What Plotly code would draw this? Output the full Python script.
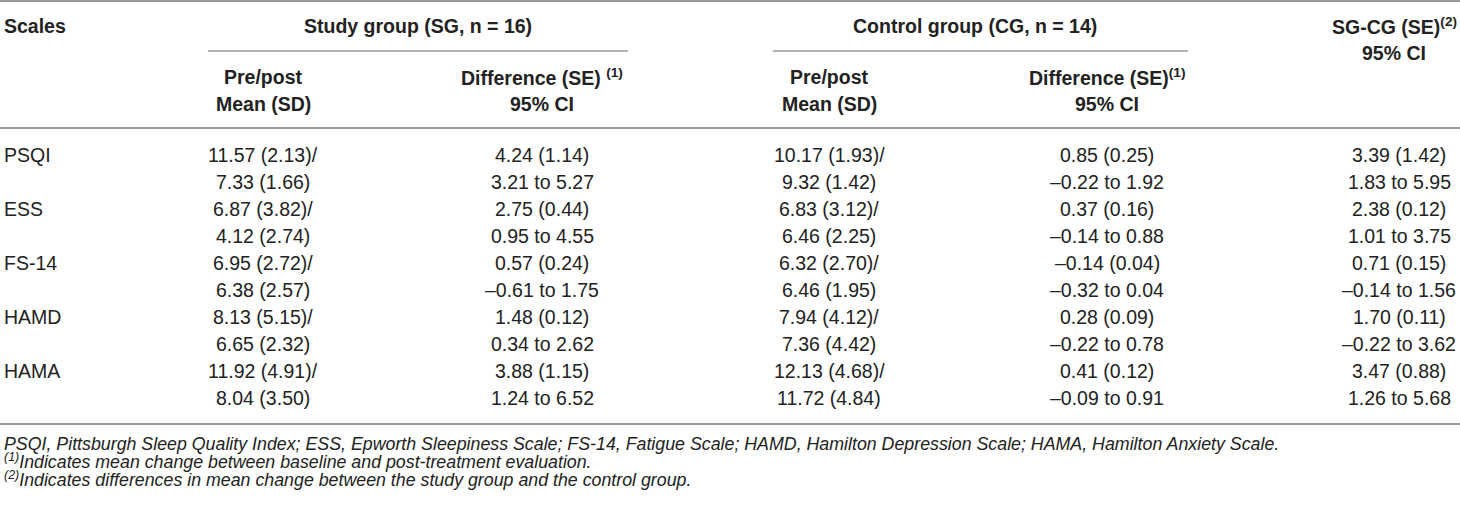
import plotly.graph_objects as go

# table content
scales = ['PSQI', 'ESS', 'FS-14', 'HAMD', 'HAMA']
sg_pre = ['11.57 (2.13)', '6.87 (3.82)', '6.95 (2.72)', '8.13 (5.15)', '11.92 (4.91)']
sg_post = ['7.33 (1.66)', '4.12 (2.74)', '6.38 (2.57)', '6.65 (2.32)', '8.04 (3.50)']
sg_diff = ['4.24 (1.14)', '2.75 (0.44)', '0.57 (0.24)', '1.48 (0.12)', '3.88 (1.15)']
sg_ci = ['3.21 to 5.27', '0.95 to 4.55', '–0.61 to 1.75', '0.34 to 2.62', '1.24 to 6.52']
cg_pre = ['10.17 (1.93)', '6.83 (3.12)', '6.32 (2.70)', '7.94 (4.12)', '12.13 (4.68)']
cg_post = ['9.32 (1.42)', '6.46 (2.25)', '6.46 (1.95)', '7.36 (4.42)', '11.72 (4.84)']
cg_diff = ['0.85 (0.25)', '0.37 (0.16)', '–0.14 (0.04)', '0.28 (0.09)', '0.41 (0.12)']
cg_ci = ['–0.22 to 1.92', '–0.14 to 0.88', '–0.32 to 0.04', '–0.22 to 0.78', '–0.09 to 0.91']
between_diff = ['3.39 (1.42)', '2.38 (0.12)', '0.71 (0.15)', '1.70 (0.11)', '3.47 (0.88)']
between_ci = ['1.83 to 5.95', '1.01 to 3.75', '–0.14 to 1.56', '–0.22 to 3.62', '1.26 to 5.68']

footnotes = [
    'PSQI, Pittsburgh Sleep Quality Index; ESS, Epworth Sleepiness Scale; FS-14, Fatigue Scale; '
    'HAMD, Hamilton Depression Scale; HAMA, Hamilton Anxiety Scale.',
    '<sup>(1)</sup>Indicates mean change between baseline and post-treatment evaluation.',
    '<sup>(2)</sup>Indicates differences in mean change between the study group and the control group.',
]

W, H = 1460, 507
FONT = 'Liberation Sans, Arial, Helvetica, sans-serif'
TXT = '#222222'
RULE = '#9a9a9a'

col_x = [263, 542, 829, 1107, 1399]
row0, pitch = 155, 27

annotations = []


def text(x, y, s, size=19.5, bold=False, italic=False, anchor='center', color=TXT):
    annotations.append(dict(
        x=x, y=y, xref='x', yref='y', text=s, showarrow=False,
        xanchor=anchor, yanchor='middle',
        font=dict(family=FONT, size=size, color=color,
                  weight='bold' if bold else 'normal',
                  style='italic' if italic else 'normal'),
    ))


# header
text(2, 26, 'Scales', bold=True, anchor='left')
text(418, 26, 'Study group (SG, n = 16)', bold=True)
text(975, 26, 'Control group (CG, n = 14)', bold=True)
text(1459, 26, 'SG-CG (SE)<sup>(2)</sup>', bold=True, anchor='right')
text(1394, 53, '95% CI', bold=True)
for cx, sup in [(col_x[0], None), (col_x[1], 'Difference (SE) <sup>(1)</sup>'),
                (col_x[2], None), (col_x[3], 'Difference (SE)<sup>(1)</sup>')]:
    if sup is None:
        text(cx, 77, 'Pre/post', bold=True)
        text(cx, 104, 'Mean (SD)', bold=True)
    else:
        text(cx, 77, sup, bold=True)
        text(cx, 104, '95% CI', bold=True)

# body
for i, name in enumerate(scales):
    y1 = row0 + 2 * i * pitch
    y2 = y1 + pitch
    text(2, y1, name, anchor='left')
    text(col_x[0], y1, sg_pre[i] + '/')
    text(col_x[0], y2, sg_post[i])
    text(col_x[1], y1, sg_diff[i])
    text(col_x[1], y2, sg_ci[i])
    text(col_x[2], y1, cg_pre[i] + '/')
    text(col_x[2], y2, cg_post[i])
    text(col_x[3], y1, cg_diff[i])
    text(col_x[3], y2, cg_ci[i])
    text(col_x[4], y1, between_diff[i])
    text(col_x[4], y2, between_ci[i])

# footnotes (lines with a superscript sit a bit lower, so nudge them up)
foot_y = [444, 461, 479]
for k, note in enumerate(footnotes):
    text(2, foot_y[k], note, size=17.8, italic=True, anchor='left')

shapes = [
    dict(type='line', xref='x', yref='y', x0=0, x1=W, y0=1, y1=1, line=dict(color=RULE, width=2)),
    dict(type='line', xref='x', yref='y', x0=208, x1=628, y0=51, y1=51, line=dict(color=RULE, width=1.5)),
    dict(type='line', xref='x', yref='y', x0=773, x1=1188, y0=51, y1=51, line=dict(color=RULE, width=1.5)),
    dict(type='line', xref='x', yref='y', x0=0, x1=W, y0=128, y1=128, line=dict(color=RULE, width=2)),
    dict(type='line', xref='x', yref='y', x0=0, x1=W, y0=424, y1=424, line=dict(color=RULE, width=2)),
]

fig = go.Figure()
fig.update_layout(
    width=W, height=H,
    margin=dict(l=0, r=0, t=0, b=0),
    plot_bgcolor='white', paper_bgcolor='white',
    xaxis=dict(range=[0, W], visible=False, fixedrange=True),
    yaxis=dict(range=[H, 0], visible=False, fixedrange=True),
    showlegend=False,
    annotations=annotations,
    shapes=shapes,
)
# page has a default 8px body margin, drop it so the table sits flush
fig.write_html('out.html', config={'displayModeBar': False},
               post_script="document.body.style.margin='0';")
